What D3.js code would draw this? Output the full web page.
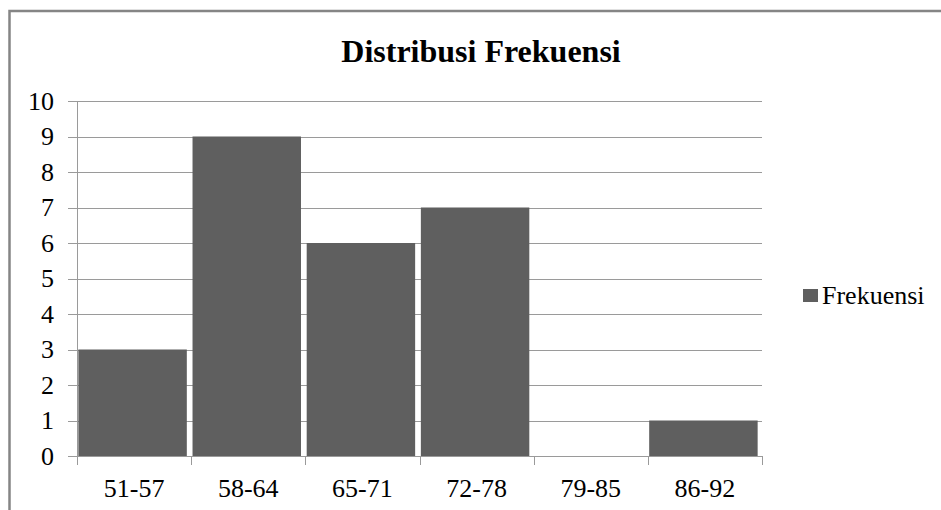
<!DOCTYPE html>
<html>
<head>
<meta charset="utf-8">
<script src="https://cdn.jsdelivr.net/npm/d3@7"></script>
<style>
  body { margin: 0; background: #fff; }
  svg { display: block; }
  text { font-family: "Liberation Serif", "Times New Roman", serif; }
</style>
</head>
<body>
<svg id="canvas"></svg>
<script>
const categories = ["51-57", "58-64", "65-71", "72-78", "79-85", "86-92"];
const frekuensi = [3, 9, 6, 7, 0, 1];
const yTicks = [0, 1, 2, 3, 4, 5, 6, 7, 8, 9, 10];

const width = 941;
const height = 510;
const plotLeft = 77, plotRight = 762, plotTop = 101, plotBottom = 456;
const barColor = "#5f5f5f";
const gridColor = "#9a9a9a";
const serif = "'Liberation Serif', 'Times New Roman', serif";

const canvas = d3.select("#canvas")
    .attr("width", width)
    .attr("height", height);

// chart frame
canvas.append("rect")
    .attr("x", 9.5).attr("y", 11)
    .attr("width", width + 10).attr("height", height + 10)
    .attr("fill", "#fff")
    .attr("stroke", "#858585")
    .attr("stroke-width", 2.5);

const xScale = d3.scaleBand()
    .domain(categories)
    .range([plotLeft - 1.5, plotRight - 1.5])
    .paddingInner(0.05)
    .paddingOuter(0.025);

const xTickScale = d3.scaleBand()
    .domain(categories)
    .range([plotLeft, plotRight]);

const yScale = d3.scaleLinear()
    .domain([0, 10])
    .range([plotBottom, plotTop]);

// gridlines
canvas.append("g")
    .selectAll("line")
    .data(yTicks)
    .enter()
    .append("line")
    .attr("x1", plotLeft - 9)
    .attr("x2", plotRight)
    .attr("y1", d => Math.round(yScale(d)) + 0.5)
    .attr("y2", d => Math.round(yScale(d)) + 0.5)
    .attr("stroke", gridColor)
    .attr("stroke-width", 1);

// y labels
canvas.append("g")
    .selectAll("text")
    .data(yTicks)
    .enter()
    .append("text")
    .attr("x", plotLeft - 23)
    .attr("y", d => yScale(d))
    .attr("dy", "0.33em")
    .attr("text-anchor", "end")
    .attr("font-family", serif)
    .attr("font-size", 26)
    .attr("fill", "#000")
    .text(d => d);

// bars
canvas.append("g")
    .selectAll("rect")
    .data(frekuensi)
    .enter()
    .append("rect")
    .attr("x", (d, i) => xScale(categories[i]))
    .attr("width", xScale.bandwidth())
    .attr("y", d => yScale(d))
    .attr("height", d => yScale(0) - yScale(d))
    .attr("fill", barColor);

// y axis line
canvas.append("line")
    .attr("x1", plotLeft + 0.5).attr("x2", plotLeft + 0.5)
    .attr("y1", plotTop).attr("y2", plotBottom)
    .attr("stroke", gridColor);

// x axis line + ticks
canvas.append("line")
    .attr("x1", plotLeft).attr("x2", plotRight)
    .attr("y1", plotBottom + 0.5).attr("y2", plotBottom + 0.5)
    .attr("stroke", gridColor);

const tickPos = categories.map(c => xTickScale(c)).concat([plotRight]);
canvas.append("g")
    .selectAll("line")
    .data(tickPos)
    .enter()
    .append("line")
    .attr("x1", d => Math.round(d) + 0.5)
    .attr("x2", d => Math.round(d) + 0.5)
    .attr("y1", plotBottom)
    .attr("y2", plotBottom + 9)
    .attr("stroke", gridColor);

// x labels
canvas.append("g")
    .selectAll("text")
    .data(categories)
    .enter()
    .append("text")
    .attr("x", d => xTickScale(d) + xTickScale.bandwidth() / 2)
    .attr("y", 497)
    .attr("text-anchor", "middle")
    .attr("font-family", serif)
    .attr("font-size", 26)
    .attr("fill", "#000")
    .text(d => d);

// title
canvas.append("text")
    .attr("x", 481)
    .attr("y", 62)
    .attr("text-anchor", "middle")
    .attr("font-family", serif)
    .attr("font-size", 32)
    .attr("font-weight", "bold")
    .attr("fill", "#000")
    .text("Distribusi Frekuensi");

// legend
canvas.append("rect")
    .attr("x", 803).attr("y", 289)
    .attr("width", 15).attr("height", 13)
    .attr("fill", barColor);
canvas.append("text")
    .attr("x", 822)
    .attr("y", 304)
    .attr("font-family", serif)
    .attr("font-size", 26)
    .attr("fill", "#000")
    .text("Frekuensi");
</script>
</body>
</html>
